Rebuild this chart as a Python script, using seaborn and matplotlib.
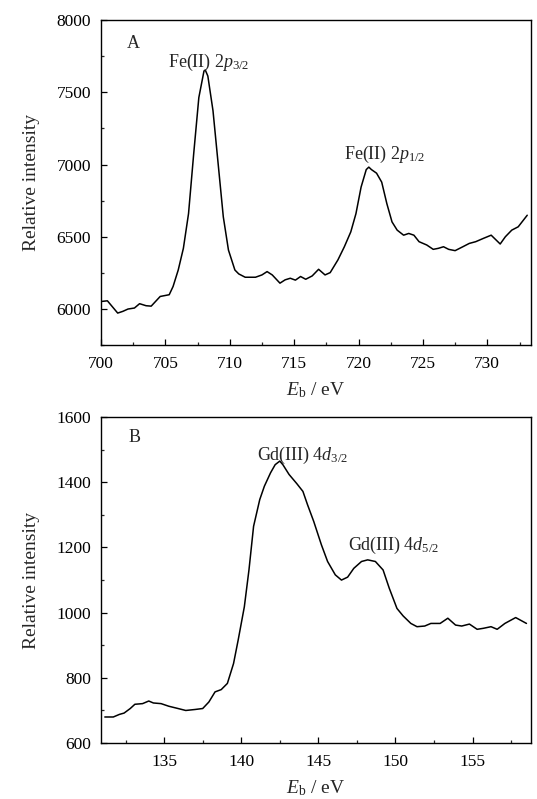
import numpy as np
import pandas as pd
import seaborn as sns
import matplotlib
matplotlib.use("Agg")
import matplotlib.pyplot as plt
from matplotlib.ticker import MultipleLocator

# Panel A: Fe 2p
fe_eb = [700.1, 700.5, 701.3, 701.7, 702.1, 702.6, 703.0, 703.5, 703.9, 704.6, 705.3, 705.6,
         706.0, 706.4, 706.8, 707.2, 707.6, 708.0, 708.1, 708.3, 708.7, 709.1, 709.5, 709.9,
         710.4, 710.7, 711.2, 712.0, 712.5, 712.9, 713.3, 713.9, 714.3, 714.7, 715.1, 715.5,
         715.9, 716.4, 716.9, 717.4, 717.8, 718.4, 718.9, 719.4, 719.8, 720.2, 720.6, 720.8,
         721.0, 721.4, 721.8, 722.2, 722.6, 723.0, 723.5, 723.9, 724.3, 724.7, 725.3, 725.8,
         726.2, 726.6, 727.0, 727.5, 728.1, 728.6, 729.1, 729.7, 730.3, 731.0, 731.4, 731.9,
         732.4, 733.1]
fe_int = [6053, 6057, 5972, 5984, 6000, 6007, 6037, 6023, 6020, 6087, 6099, 6156,
          6270, 6420, 6660, 7073, 7463, 7647, 7654, 7612, 7372, 7005, 6638, 6408,
          6270, 6243, 6220, 6220, 6236, 6259, 6236, 6179, 6202, 6213, 6200, 6225,
          6206, 6229, 6275, 6236, 6252, 6340, 6431, 6534, 6660, 6844, 6965, 6982,
          6965, 6940, 6878, 6729, 6603, 6546, 6511, 6523, 6511, 6466, 6443, 6413,
          6420, 6431, 6413, 6404, 6431, 6454, 6466, 6489, 6511, 6450, 6500, 6546,
          6569, 6649]

# Panel B: Gd 4d
gd_eb = [131.15, 131.7, 132.1, 132.4, 132.8, 133.1, 133.6, 134.0, 134.3, 134.8, 135.3, 135.9,
         136.4, 137.0, 137.5, 137.9, 138.3, 138.7, 139.1, 139.5, 139.8, 140.2, 140.5, 140.8,
         141.2, 141.5, 141.9, 142.2, 142.5, 142.7, 143.1, 143.6, 144.0, 144.3, 144.7, 145.2,
         145.6, 146.1, 146.5, 146.9, 147.3, 147.8, 148.2, 148.7, 149.2, 149.6, 150.1, 150.5,
         151.0, 151.4, 151.9, 152.3, 152.9, 153.4, 153.9, 154.3, 154.8, 155.3, 155.7, 156.2,
         156.6, 157.1, 157.8, 158.5]
gd_int = [680, 680, 688, 692, 706, 719, 721, 729, 723, 721, 713, 706,
          700, 703, 706, 726, 757, 764, 783, 844, 916, 1018, 1131, 1265,
          1347, 1388, 1429, 1454, 1465, 1454, 1424, 1396, 1372, 1331, 1280, 1208,
          1157, 1116, 1100, 1109, 1136, 1157, 1162, 1157, 1131, 1075, 1013, 990,
          967, 957, 959, 967, 967, 983, 962, 959, 965, 949, 952, 957,
          949, 967, 985, 967]

sns.set_theme(style="ticks")
plt.rcParams["font.family"] = ["Liberation Serif", "DejaVu Serif"]
plt.rcParams["mathtext.fontset"] = "custom"
plt.rcParams["mathtext.rm"] = "Liberation Serif"
plt.rcParams["mathtext.it"] = "Liberation Serif:italic"
plt.rcParams["xtick.direction"] = "in"
plt.rcParams["ytick.direction"] = "in"

fig = plt.figure(figsize=(5.37, 7.99), dpi=100)
axA = fig.add_axes([0.188, 0.568, 0.801, 0.407])
axB = fig.add_axes([0.188, 0.070, 0.801, 0.408])

dfA = pd.DataFrame({"Eb": fe_eb, "I": fe_int})
dfB = pd.DataFrame({"Eb": gd_eb, "I": gd_int})
sns.lineplot(data=dfA, x="Eb", y="I", ax=axA, color="black", linewidth=1.1)
sns.lineplot(data=dfB, x="Eb", y="I", ax=axB, color="black", linewidth=1.1)

tfs = 12.5
lfs = 14
afs = 13
for ax in (axA, axB):
    for s in ax.spines.values():
        s.set_linewidth(1.0)
        s.set_color("black")
    ax.tick_params(which="major", length=4, width=0.9, labelsize=tfs, colors="black")
    ax.tick_params(axis="x", which="major", pad=8)
    ax.tick_params(axis="y", which="major", pad=7)
    ax.tick_params(which="minor", length=2.5, width=0.9)
    ax.set_ylabel("Relative intensity", fontsize=lfs, labelpad=12)
    ax.set_xlabel(r"$E_{\mathrm{b}}$ / eV", fontsize=lfs, labelpad=6)

axA.set_xlim(700, 733.4)
axA.set_ylim(5750, 8000)
axA.xaxis.set_major_locator(MultipleLocator(5))
axA.xaxis.set_minor_locator(MultipleLocator(2.5))
axA.yaxis.set_major_locator(MultipleLocator(500))
axA.yaxis.set_minor_locator(MultipleLocator(250))

axB.set_xlim(130.9, 158.8)
axB.set_ylim(600, 1600)
axB.xaxis.set_major_locator(MultipleLocator(5))
axB.xaxis.set_minor_locator(MultipleLocator(2.5))
axB.yaxis.set_major_locator(MultipleLocator(200))
axB.yaxis.set_minor_locator(MultipleLocator(100))

axA.text(702.5, 7840, "A", fontsize=afs, ha="center", va="center")
axA.text(708.4, 7705, r"Fe(II) 2$p_{3/2}$", fontsize=afs, ha="center", va="center")
axA.text(722.0, 7068, r"Fe(II) 2$p_{1/2}$", fontsize=afs, ha="center", va="center")

axB.text(133.05, 1536, "B", fontsize=afs, ha="center", va="center")
axB.text(144.0, 1483, r"Gd(III) 4$d_{3/2}$", fontsize=afs, ha="center", va="center")
axB.text(149.9, 1207, r"Gd(III) 4$d_{5/2}$", fontsize=afs, ha="center", va="center")

fig.savefig("out.png", dpi=100, facecolor="white")
